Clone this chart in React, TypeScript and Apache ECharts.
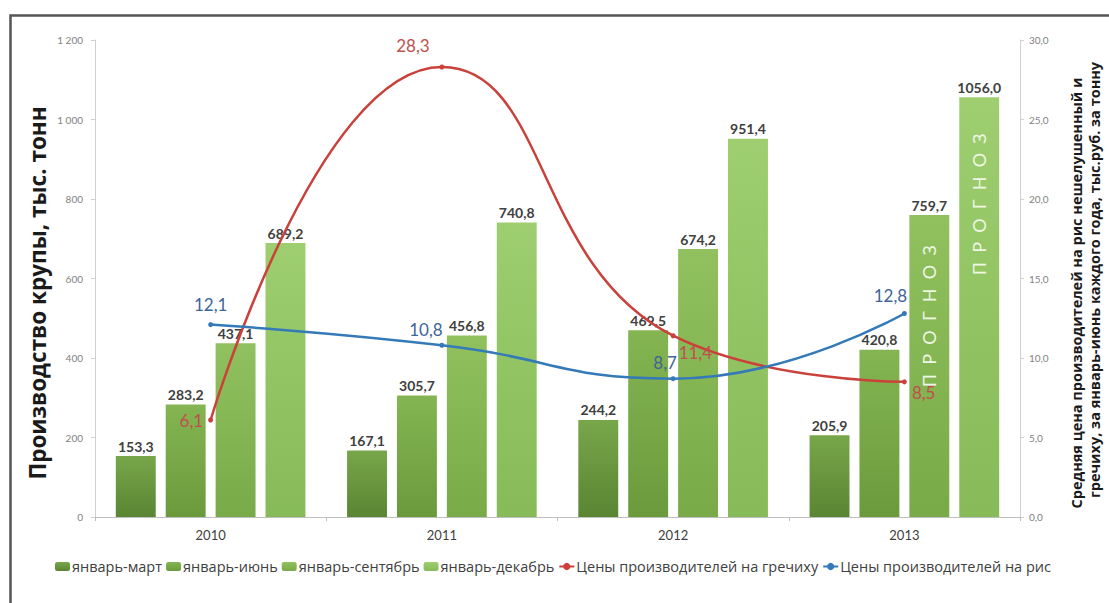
import React, { useEffect, useRef } from "react";
import * as echarts from "echarts";

const years = ["2010", "2011", "2012", "2013"];
const janMar = [153.3, 167.1, 244.2, 205.9];
const janJun = [283.2, 305.7, 469.5, 420.8];
const janSep = [437.1, 456.8, 674.2, 759.7];
const janDec = [689.2, 740.8, 951.4, 1056.0];
const buckwheatPrice = [6.1, 28.3, 11.4, 8.5];
const ricePrice = [12.1, 10.8, 8.7, 12.8];

const seriesNames = [
  "январь-март",
  "январь-июнь",
  "январь-сентябрь",
  "январь-декабрь",
  "Цены производителей на гречиху",
  "Цены производителей на рис",
];
const leftTicks = [0, 200, 400, 600, 800, 1000, 1200];
const rightTicks = [0, 5, 10, 15, 20, 25, 30];
const forecastText = "П  Р  О  Г  Н  О  З";
const leftTitle = "Производство крупы, тыс. тонн";
const rightTitle1 = "Средняя цена производителей на рис нешелушенный и";
const rightTitle2 = "гречиху, за январь-июнь каждого года, тыс.руб. за тонну";

const FONT = "Lato, 'Open Sans', sans-serif";
const TITLE_FONT = "'Open Sans', Lato, sans-serif";
const fmt1 = (v: number) => v.toFixed(1).replace(".", ",");
const fmtThousands = (v: number) =>
  String(v).replace(/\B(?=(\d{3})+(?!\d))/g, " ");

const grad = (top: string, bottom: string) =>
  new echarts.graphic.LinearGradient(0, 0, 0, 1, [
    { offset: 0, color: top },
    { offset: 1, color: bottom },
  ]);

export default function App() {
  const ref = useRef<HTMLDivElement>(null);
  useEffect(() => {
    if (!ref.current) return;
    const chart = echarts.init(ref.current, undefined, { renderer: "svg" });

    const barLabel = {
      show: true,
      position: "top",
      distance: 3,
      fontFamily: FONT,
      fontSize: 14,
      fontWeight: "bold",
      color: "#404040",
      formatter: (p: any) => fmt1(p.value),
    };

    const barColors = [
      grad("#78a64a", "#5a8533"),
      grad("#84b552", "#6b9a3c"),
      grad("#90c15e", "#79aa48"),
      grad("#9ece6f", "#87ba58"),
    ];

    const mk = (values: number[], factor: number) => ({
      symbol: "rect",
      symbolSize: 1,
      itemStyle: { color: "transparent" },
      label: {
        show: true,
        position: "inside",
        rotate: 90,
        formatter: forecastText,
        fontFamily: FONT,
        fontSize: 18,
        color: "#eef7e4",
      },
      data: [{ coord: ["2013", values[3] * factor], value: values[3] }],
    });

    const barData = [janMar, janJun, janSep, janDec];
    const barSeries = barData.map((d, i) => ({
      name: seriesNames[i],
      type: "bar",
      xAxisIndex: 0,
      yAxisIndex: 0,
      data: d,
      barGap: "25%",
      barCategoryGap: "18%",
      itemStyle: { color: barColors[i] },
      label: barLabel,
      markPoint:
        i === 2 ? mk(d, 0.665) : i === 3 ? mk(d, 0.745) : undefined,
    }));

    const redLabelPos: any[] = [
      { position: "left", offset: [0, 0] },
      { position: "top", offset: [-29, -6] },
      { position: "right", offset: [-2, 17] },
      { position: "right", offset: [0, 11] },
    ];
    const blueLabelPos: any[] = [
      { position: "top", offset: [0, -4] },
      { position: "top", offset: [-16, 0] },
      { position: "top", offset: [-8, 0] },
      { position: "top", offset: [-14, -2] },
    ];

    const lineSeries = (
      name: string,
      data: number[],
      color: string,
      labelColor: string,
      pos: any[]
    ) => ({
      name,
      type: "line",
      xAxisIndex: 0,
      yAxisIndex: 1,
      smooth: 0.5,
      symbol: "circle",
      symbolSize: 5,
      lineStyle: { color, width: 2.5 },
      itemStyle: { color },
      z: 5,
      data: data.map((v, i) => ({
        value: v,
        label: {
          show: true,
          position: pos[i].position,
          offset: pos[i].offset,
          distance: 5,
          fontFamily: FONT,
          fontSize: 17,
          color: labelColor,
          formatter: (p: any) => fmt1(p.value),
        },
      })),
    });

    const option: any = {
      animation: false,
      backgroundColor: "#ffffff",
      textStyle: { fontFamily: FONT },
      grid: { left: 95, right: 89, top: 40, bottom: 86 },
      legend: {
        data: seriesNames,
        left: 50,
        top: 554,
        itemGap: 4,
        itemWidth: 15,
        itemHeight: 9,
        textStyle: {
          fontFamily: TITLE_FONT,
          fontSize: 14.5,
          color: "#404040",
          padding: [0, 0, 0, -3],
        },
      },
      xAxis: [
        {
          type: "category",
          data: years,
          axisLine: { lineStyle: { color: "#bfbfbf", width: 1 } },
          axisTick: { show: true, length: 4, lineStyle: { color: "#bfbfbf" } },
          axisLabel: {
            fontFamily: FONT,
            fontSize: 13,
            color: "#404040",
            margin: 11,
          },
        },
      ],
      yAxis: [
        {
          type: "value",
          min: leftTicks[0],
          max: leftTicks[leftTicks.length - 1],
          interval: leftTicks[1] - leftTicks[0],
          splitLine: { show: false },
          axisLine: { show: true, lineStyle: { color: "#d0d0d0" } },
          axisTick: { show: true, length: 4, lineStyle: { color: "#d0d0d0" } },
          axisLabel: {
            fontFamily: FONT,
            fontSize: 10,
            color: "#7f7f7f",
            margin: 12,
            formatter: (v: number) => fmtThousands(v),
          },
        },
        {
          type: "value",
          position: "right",
          min: rightTicks[0],
          max: rightTicks[rightTicks.length - 1],
          interval: rightTicks[1] - rightTicks[0],
          splitLine: { show: false },
          axisLine: { show: true, lineStyle: { color: "#d0d0d0" } },
          axisTick: { show: true, length: 4, lineStyle: { color: "#d0d0d0" } },
          axisLabel: {
            fontFamily: FONT,
            fontSize: 10,
            color: "#7f7f7f",
            margin: 9,
            formatter: (v: number) => fmt1(v),
          },
        },
      ],
      graphic: [
        {
          type: "rect",
          left: 8,
          top: 13,
          shape: { width: 1200, height: 700 },
          style: { fill: "none", stroke: "#555555", lineWidth: 2.5 },
          silent: true,
        },
        {
          type: "text",
          x: 37,
          y: 293,
          rotation: Math.PI / 2,
          style: {
            text: leftTitle,
            fontFamily: TITLE_FONT,
            fontSize: 22.5,
            fontWeight: "bold",
            fill: "#1a1a1a",
            align: "center",
            verticalAlign: "middle",
          },
        },
        {
          type: "text",
          x: 1076,
          y: 293,
          rotation: Math.PI / 2,
          style: {
            text: rightTitle1,
            fontFamily: TITLE_FONT,
            fontSize: 14.5,
            fontWeight: "bold",
            fill: "#1a1a1a",
            align: "center",
            verticalAlign: "middle",
          },
        },
        {
          type: "text",
          x: 1094,
          y: 280,
          rotation: Math.PI / 2,
          style: {
            text: rightTitle2,
            fontFamily: TITLE_FONT,
            fontSize: 14.5,
            fontWeight: "bold",
            fill: "#1a1a1a",
            align: "center",
            verticalAlign: "middle",
          },
        },
      ],
      series: [
        ...barSeries,
        lineSeries(seriesNames[4], buckwheatPrice, "#c9413a", "#c0504d", redLabelPos),
        lineSeries(seriesNames[5], ricePrice, "#3479b8", "#3d6598", blueLabelPos),
      ],
    };

    chart.setOption(option);
    return () => chart.dispose();
  }, []);

  return (
    <div
      ref={ref}
      style={{
        position: "absolute",
        left: 0,
        top: 0,
        width: 1109,
        height: 603,
        background: "#fff",
      }}
    />
  );
}
